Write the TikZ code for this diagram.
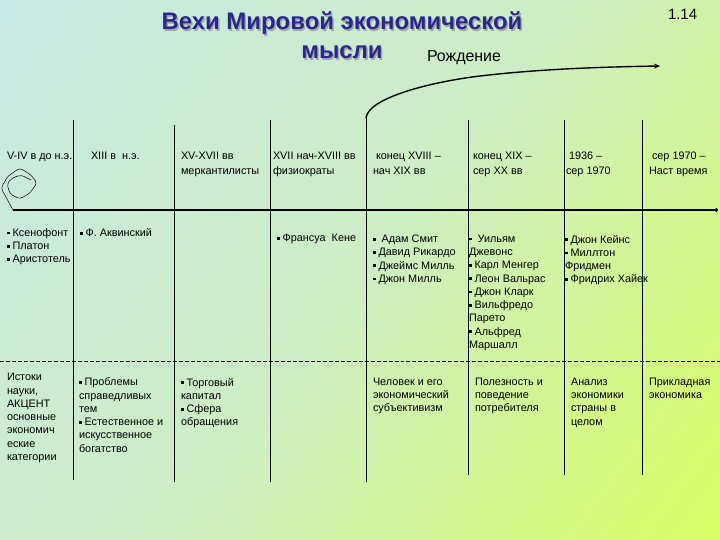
\documentclass[tikz,border=0pt]{standalone}
\usepackage{fontspec}
\setmainfont{Liberation Sans}
\usetikzlibrary{arrows.meta}
\definecolor{bgA}{HTML}{C8E8E6}
\definecolor{bgB}{HTML}{CDEEC4}
\definecolor{bgC}{HTML}{D8FF5E}
\definecolor{titleblue}{HTML}{27278F}
\pgfdeclarehorizontalshading{bgshade}{100bp}{color(0bp)=(bgA); color(22bp)=(bgA); color(50bp)=(bgB); color(78bp)=(bgC); color(100bp)=(bgC)}
\newcommand{\bl}{\rule[2pt]{2.8pt}{2.8pt}\hspace{2.8pt}}
\tikzset{
  x=1bp,y=-1bp,
  txt/.style={anchor=north west,inner sep=0pt,outer sep=0pt,align=left,font=\fontsize{10.9}{13.3}\selectfont,text=black},
  hdr/.style={txt,font=\fontsize{10.9}{15.2}\selectfont},
  ttl/.style={inner sep=0pt,align=center,font=\fontsize{24}{29}\selectfont\bfseries},
  vline/.style={line width=0.9pt,black},
  axisline/.style={line width=1.4pt,black}
}
\begin{document}
\begin{tikzpicture}
\useasboundingbox (0,0) rectangle (720,540);
\begin{scope}
\clip (0,0) rectangle (720,540);
\shade[shading=bgshade,shading angle=-37] (-100,-100) rectangle (820,640);
\end{scope}
% title
\node[ttl,text=black!35] at (343.5,37) {Вехи Мировой экономической\\мысли};
\node[ttl,text=titleblue] (title) at (342,35.5) {Вехи Мировой экономической\\мысли};
\node[txt,anchor=west,font=\fontsize{15}{17}\selectfont] (num) at (668,14) {1.14};
\node[txt,anchor=west,font=\fontsize{16}{18}\selectfont] (birth) at (427,58) {Рождение};
% grid coordinates
\foreach \n/\x/\ya/\yb in {a/73/120/480,b/174/125/482,c/270/120/482,d/366/118/482,e/468/120/475,f/564/120/475,g/642/120/475}{
  \coordinate (\n t) at (\x,\ya);
  \coordinate (\n b) at (\x,\yb);
  \draw[vline] (\n t) -- (\n b);
}
\coordinate (axL) at (13,210);
\coordinate (axR) at (718,210);
\draw[axisline,-{Circle[length=3.5pt]}] (axL) -- (axR);
\coordinate (daL) at (0,361);
\coordinate (daR) at (720,361);
\draw[dashed,line width=0.6pt,dash pattern=on 4pt off 2pt] (daL) -- (daR);
% birth curve
\coordinate (cvS) at (366,118);
\coordinate (cvE) at (660,66);
\draw[line width=1.4pt,-{Stealth[length=6pt,width=5pt]}] (cvS) .. controls (368,98) and (430,82) .. (480,76) .. controls (540,69) and (600,67) .. (cvE);
% spiral
\coordinate (spS) at (13,210);
\draw[line width=0.5pt,rounded corners=3pt] (spS) -- (1,188) -- (8,176) -- (20,168) -- (31,175) -- (37,183) -- (30,193) -- (20,199) -- (10,194) -- (7,184) -- (12,178) -- (21,175) -- (31,180);
% headers
\node[hdr] (h1) at (7,152) {V-IV в до н.э.};
\node[hdr] (h2) at (91,152) {XIII в \ н.э.};
\node[hdr] (h3) at (181,152) {XV-XVII вв\\меркантилисты};
\node[hdr] (h4) at (273,152) {XVII нач-XVIII вв\\физиократы};
\node[hdr] (h5) at (373,152) {\ конец XVIII –\\нач XIX вв};
\node[hdr] (h6) at (473,152) {конец XIX –\\сер XX вв};
\node[hdr] (h7) at (566,152) {\ 1936 –\\сер 1970};
\node[hdr] (h8) at (649,152) {\ сер 1970 –\\Наст время};
% names
\node[txt] (n1) at (7,228.5) {\bl Ксенофонт\\\bl Платон\\\bl Аристотель};
\node[txt] (n2) at (80,228.5) {\bl Ф. Аквинский};
\node[txt] (n4) at (277,234) {\bl Франсуа \ Кене};
\node[txt] (n5) at (373,235) {\bl \ Адам Смит\\\bl Давид Рикардо\\\bl Джеймс Милль\\\bl Джон Милль};
\node[txt] (n6) at (469,235) {\bl \ Уильям\\Джевонс\\\bl Карл Менгер\\\bl Леон Вальрас\\\bl Джон Кларк\\\bl Вильфредо\\Парето\\\bl Альфред\\Маршалл};
\node[txt] (n7) at (565,235) {\bl Джон Кейнс\\\bl Миллтон\\Фридмен\\\bl Фридрих Хайек};
% bottom row
\node[txt] (r1) at (7,373.5) {Истоки\\науки,\\АКЦЕНТ\\основные\\экономич\\еские\\категории};
\node[txt] (r2) at (79,378) {\bl Проблемы\\справедливых\\тем\\\bl Естественное и\\искусственное\\богатство};
\node[txt] (r3) at (181,378) {\bl Торговый\\капитал\\\bl Сфера\\обращения};
\node[txt] (r5) at (373,378) {Человек и его\\экономический\\субъективизм};
\node[txt] (r6) at (475,378) {Полезность и\\поведение\\потребителя};
\node[txt] (r7) at (571,378) {Анализ\\экономики\\страны в\\целом};
\node[txt] (r8) at (649,378) {Прикладная\\экономика};
\end{tikzpicture}
\end{document}
